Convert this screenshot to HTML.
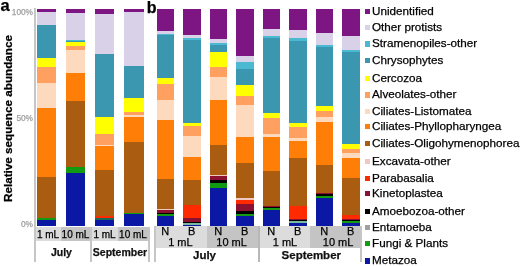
<!DOCTYPE html>
<html><head><meta charset="utf-8"><style>
*{margin:0;padding:0;box-sizing:border-box}
html,body{width:520px;height:266px;overflow:hidden;background:#fff}
body{position:relative;font-family:"Liberation Sans",sans-serif;color:#1a1a1a}
.s,.sq,.lt,.t,.bx,.ln{position:absolute}
.sq{left:365px;width:5.4px;height:5.4px}
.lt{left:372px;font-size:11.7px;line-height:14px;white-space:nowrap;color:#000}
.t{white-space:nowrap;line-height:1}
.tick{font-size:8.3px;color:#a0a0a0;text-align:right;width:30px}
.lab{font-size:10px;color:#000;text-align:center}
.mon{font-size:10.5px;font-weight:bold;text-align:center;color:#111}
.labb{font-size:11px;color:#000;text-align:center}
.monb{font-size:11.5px;font-weight:bold;text-align:center;color:#111}
.ln{background:#c6c6c6}
.gs{filter:grayscale(1)}
.gs .t,.gs .lt{-webkit-text-stroke:0.25px currentColor}
</style></head><body>
<div class="gs">
<div class="t" style="left:0.6px;top:-3.2px;font-size:16.5px;font-weight:bold;color:#000">a</div>
<div class="t" style="left:146.8px;top:-0.4px;font-size:16px;font-weight:bold;color:#000">b</div>
<div class="t" style="left:1.5px;top:201.5px;transform-origin:0 0;transform:rotate(-90deg);font-size:11.7px;font-weight:bold;color:#000">Relative sequence abundance</div>
<div class="t tick" style="left:3px;top:8px">100%</div>
<div class="t tick" style="left:3px;top:114px">50%</div>
<div class="t tick" style="left:3px;top:220px">0%</div>
</div>
<!-- panel a x boxes -->
<div class="bx" style="left:36px;top:227px;width:25px;height:14px;background:#dcdcdc"></div>
<div class="bx" style="left:61px;top:227px;width:29px;height:14px;background:#c4c4c4"></div>
<div class="bx" style="left:92px;top:227px;width:26px;height:14px;background:#dcdcdc"></div>
<div class="bx" style="left:118px;top:227px;width:30px;height:14px;background:#c4c4c4"></div>
<div class="ln" style="left:34px;top:8px;width:2px;height:254px"></div>
<div class="ln" style="left:90px;top:227px;width:2px;height:35px"></div>
<div class="ln" style="left:148px;top:227px;width:2px;height:35px"></div>
<div class="gs">
<div class="t lab" style="left:36px;top:230px;width:24px">1 mL</div>
<div class="t lab" style="left:61px;top:230px;width:29px">10 mL</div>
<div class="t lab" style="left:92px;top:230px;width:25px">1 mL</div>
<div class="t lab" style="left:118px;top:230px;width:30px">10 mL</div>
<div class="t mon" style="left:33.9px;top:247.4px;width:55px">July</div>
<div class="t mon" style="left:91.5px;top:247.4px;width:57px">September</div>
</div>
<!-- panel b x boxes -->
<div class="bx" style="left:156px;top:226px;width:51px;height:22px;background:#dcdcdc"></div>
<div class="bx" style="left:207px;top:226px;width:51px;height:22px;background:#c4c4c4"></div>
<div class="bx" style="left:260px;top:226px;width:50px;height:22px;background:#dcdcdc"></div>
<div class="bx" style="left:310px;top:226px;width:50px;height:22px;background:#c4c4c4"></div>
<div class="ln" style="left:154px;top:226px;width:2px;height:36px"></div>
<div class="ln" style="left:258px;top:226px;width:2px;height:36px;background:#b8b8b8"></div>
<div class="ln" style="left:360px;top:226px;width:2px;height:36px"></div>
<div class="gs">
<div class="t labb" style="left:155.2px;top:225.7px;width:20px">N</div>
<div class="t labb" style="left:181.7px;top:225.7px;width:20px">B</div>
<div class="t labb" style="left:208.2px;top:225.7px;width:20px">N</div>
<div class="t labb" style="left:234.7px;top:225.7px;width:20px">B</div>
<div class="t labb" style="left:261.2px;top:225.7px;width:20px">N</div>
<div class="t labb" style="left:287.7px;top:225.7px;width:20px">B</div>
<div class="t labb" style="left:314.2px;top:225.7px;width:20px">N</div>
<div class="t labb" style="left:340.7px;top:225.7px;width:20px">B</div>
<div class="t labb" style="left:160.4px;top:236.5px;width:40px">1 mL</div>
<div class="t labb" style="left:211.6px;top:236.5px;width:40px">10 mL</div>
<div class="t labb" style="left:265.0px;top:236.5px;width:40px">1 mL</div>
<div class="t labb" style="left:318.1px;top:236.5px;width:40px">10 mL</div>
<div class="t monb" style="left:153px;top:250.2px;width:103px">July</div>
<div class="t monb" style="left:260.8px;top:250.2px;width:101px">September</div>
</div>
<div class="s" style="left:37px;top:9px;width:19px;height:3px;background:#7D1583"></div>
<div class="s" style="left:37px;top:12px;width:19px;height:13px;background:#D9D1E8"></div>
<div class="s" style="left:37px;top:25px;width:19px;height:33px;background:#3B97AF"></div>
<div class="s" style="left:37px;top:58px;width:19px;height:9px;background:#FFFF00"></div>
<div class="s" style="left:37px;top:67px;width:19px;height:16px;background:#FFA060"></div>
<div class="s" style="left:37px;top:83px;width:19px;height:25px;background:#FDD9BE"></div>
<div class="s" style="left:37px;top:108px;width:19px;height:69px;background:#FF7E08"></div>
<div class="s" style="left:37px;top:177px;width:19px;height:41px;background:#AA5C10"></div>
<div class="s" style="left:37px;top:218px;width:19px;height:2px;background:#129A12"></div>
<div class="s" style="left:37px;top:220px;width:19px;height:6px;background:#0A18A4"></div>
<div class="s" style="left:66px;top:9px;width:19px;height:4px;background:#7D1583"></div>
<div class="s" style="left:66px;top:13px;width:19px;height:27px;background:#D9D1E8"></div>
<div class="s" style="left:66px;top:40px;width:19px;height:1px;background:#4BB9D2"></div>
<div class="s" style="left:66px;top:41px;width:19px;height:1px;background:#3B97AF"></div>
<div class="s" style="left:66px;top:42px;width:19px;height:4px;background:#FFFF00"></div>
<div class="s" style="left:66px;top:46px;width:19px;height:4px;background:#FFA060"></div>
<div class="s" style="left:66px;top:50px;width:19px;height:23px;background:#FDD9BE"></div>
<div class="s" style="left:66px;top:73px;width:19px;height:28px;background:#FF7E08"></div>
<div class="s" style="left:66px;top:101px;width:19px;height:66px;background:#AA5C10"></div>
<div class="s" style="left:66px;top:167px;width:19px;height:6px;background:#129A12"></div>
<div class="s" style="left:66px;top:173px;width:19px;height:53px;background:#0A18A4"></div>
<div class="s" style="left:95px;top:9px;width:19px;height:5px;background:#7D1583"></div>
<div class="s" style="left:95px;top:14px;width:19px;height:40px;background:#D9D1E8"></div>
<div class="s" style="left:95px;top:54px;width:19px;height:63px;background:#3B97AF"></div>
<div class="s" style="left:95px;top:117px;width:19px;height:17px;background:#FFFF00"></div>
<div class="s" style="left:95px;top:134px;width:19px;height:11px;background:#FFA060"></div>
<div class="s" style="left:95px;top:145px;width:19px;height:1px;background:#FDD9BE"></div>
<div class="s" style="left:95px;top:146px;width:19px;height:24px;background:#FF7E08"></div>
<div class="s" style="left:95px;top:170px;width:19px;height:46px;background:#AA5C10"></div>
<div class="s" style="left:95px;top:216px;width:19px;height:2px;background:#FF2A00"></div>
<div class="s" style="left:95px;top:218px;width:19px;height:2px;background:#1A6A55"></div>
<div class="s" style="left:95px;top:220px;width:19px;height:6px;background:#0A18A4"></div>
<div class="s" style="left:124px;top:9px;width:20px;height:3px;background:#7D1583"></div>
<div class="s" style="left:124px;top:12px;width:20px;height:54px;background:#D9D1E8"></div>
<div class="s" style="left:124px;top:66px;width:20px;height:32px;background:#3B97AF"></div>
<div class="s" style="left:124px;top:98px;width:20px;height:14px;background:#FFFF00"></div>
<div class="s" style="left:124px;top:112px;width:20px;height:3px;background:#FFA060"></div>
<div class="s" style="left:124px;top:115px;width:20px;height:2px;background:#FDD9BE"></div>
<div class="s" style="left:124px;top:117px;width:20px;height:25px;background:#FF7E08"></div>
<div class="s" style="left:124px;top:142px;width:20px;height:71px;background:#AA5C10"></div>
<div class="s" style="left:124px;top:213px;width:20px;height:1px;background:#129A12"></div>
<div class="s" style="left:124px;top:214px;width:20px;height:12px;background:#0A18A4"></div>
<div class="s" style="left:157px;top:9px;width:17px;height:22px;background:#7D1583"></div>
<div class="s" style="left:157px;top:31px;width:17px;height:3px;background:#D9D1E8"></div>
<div class="s" style="left:157px;top:34px;width:17px;height:1px;background:#4BB9D2"></div>
<div class="s" style="left:157px;top:35px;width:17px;height:43px;background:#3B97AF"></div>
<div class="s" style="left:157px;top:78px;width:17px;height:6px;background:#FFFF00"></div>
<div class="s" style="left:157px;top:84px;width:17px;height:16px;background:#FFA060"></div>
<div class="s" style="left:157px;top:100px;width:17px;height:20px;background:#FDD9BE"></div>
<div class="s" style="left:157px;top:120px;width:17px;height:59px;background:#FF7E08"></div>
<div class="s" style="left:157px;top:179px;width:17px;height:30px;background:#AA5C10"></div>
<div class="s" style="left:157px;top:209px;width:17px;height:1px;background:#F0C8C2"></div>
<div class="s" style="left:157px;top:210px;width:17px;height:3px;background:#8A1230"></div>
<div class="s" style="left:157px;top:213px;width:17px;height:1px;background:#000000"></div>
<div class="s" style="left:157px;top:214px;width:17px;height:2px;background:#129A12"></div>
<div class="s" style="left:157px;top:216px;width:17px;height:10px;background:#0A18A4"></div>
<div class="s" style="left:183px;top:9px;width:18px;height:26px;background:#7D1583"></div>
<div class="s" style="left:183px;top:35px;width:18px;height:3px;background:#D9D1E8"></div>
<div class="s" style="left:183px;top:38px;width:18px;height:2px;background:#4BB9D2"></div>
<div class="s" style="left:183px;top:40px;width:18px;height:83px;background:#3B97AF"></div>
<div class="s" style="left:183px;top:123px;width:18px;height:3px;background:#FFFF00"></div>
<div class="s" style="left:183px;top:126px;width:18px;height:10px;background:#FFA060"></div>
<div class="s" style="left:183px;top:136px;width:18px;height:21px;background:#FDD9BE"></div>
<div class="s" style="left:183px;top:157px;width:18px;height:23px;background:#FF7E08"></div>
<div class="s" style="left:183px;top:180px;width:18px;height:25px;background:#AA5C10"></div>
<div class="s" style="left:183px;top:205px;width:18px;height:13px;background:#FF2A00"></div>
<div class="s" style="left:183px;top:218px;width:18px;height:4px;background:#8A1230"></div>
<div class="s" style="left:183px;top:222px;width:18px;height:1px;background:#000000"></div>
<div class="s" style="left:183px;top:223px;width:18px;height:2px;background:#7AB8A0"></div>
<div class="s" style="left:183px;top:225px;width:18px;height:1px;background:#0A18A4"></div>
<div class="s" style="left:210px;top:9px;width:17px;height:30px;background:#7D1583"></div>
<div class="s" style="left:210px;top:39px;width:17px;height:4px;background:#D9D1E8"></div>
<div class="s" style="left:210px;top:43px;width:17px;height:2px;background:#4BB9D2"></div>
<div class="s" style="left:210px;top:45px;width:17px;height:7px;background:#3B97AF"></div>
<div class="s" style="left:210px;top:52px;width:17px;height:15px;background:#FFFF00"></div>
<div class="s" style="left:210px;top:67px;width:17px;height:10px;background:#FFA060"></div>
<div class="s" style="left:210px;top:77px;width:17px;height:23px;background:#FDD9BE"></div>
<div class="s" style="left:210px;top:100px;width:17px;height:45px;background:#FF7E08"></div>
<div class="s" style="left:210px;top:145px;width:17px;height:30px;background:#AA5C10"></div>
<div class="s" style="left:210px;top:175px;width:17px;height:1px;background:#F0C8C2"></div>
<div class="s" style="left:210px;top:176px;width:17px;height:4px;background:#8A1230"></div>
<div class="s" style="left:210px;top:180px;width:17px;height:3px;background:#000000"></div>
<div class="s" style="left:210px;top:183px;width:17px;height:5px;background:#129A12"></div>
<div class="s" style="left:210px;top:188px;width:17px;height:38px;background:#0A18A4"></div>
<div class="s" style="left:236px;top:9px;width:18px;height:47px;background:#7D1583"></div>
<div class="s" style="left:236px;top:56px;width:18px;height:6px;background:#D9D1E8"></div>
<div class="s" style="left:236px;top:62px;width:18px;height:7px;background:#4BB9D2"></div>
<div class="s" style="left:236px;top:69px;width:18px;height:16px;background:#3B97AF"></div>
<div class="s" style="left:236px;top:85px;width:18px;height:11px;background:#FFFF00"></div>
<div class="s" style="left:236px;top:96px;width:18px;height:9px;background:#FFA060"></div>
<div class="s" style="left:236px;top:105px;width:18px;height:32px;background:#FDD9BE"></div>
<div class="s" style="left:236px;top:137px;width:18px;height:26px;background:#FF7E08"></div>
<div class="s" style="left:236px;top:163px;width:18px;height:35px;background:#AA5C10"></div>
<div class="s" style="left:236px;top:198px;width:18px;height:2px;background:#F0C8C2"></div>
<div class="s" style="left:236px;top:200px;width:18px;height:4px;background:#FF2A00"></div>
<div class="s" style="left:236px;top:204px;width:18px;height:7px;background:#8A1230"></div>
<div class="s" style="left:236px;top:211px;width:18px;height:3px;background:#000000"></div>
<div class="s" style="left:236px;top:214px;width:18px;height:2px;background:#129A12"></div>
<div class="s" style="left:236px;top:216px;width:18px;height:10px;background:#0A18A4"></div>
<div class="s" style="left:263px;top:9px;width:17px;height:20px;background:#7D1583"></div>
<div class="s" style="left:263px;top:29px;width:17px;height:7px;background:#D9D1E8"></div>
<div class="s" style="left:263px;top:36px;width:17px;height:2px;background:#4BB9D2"></div>
<div class="s" style="left:263px;top:38px;width:17px;height:75px;background:#3B97AF"></div>
<div class="s" style="left:263px;top:113px;width:17px;height:5px;background:#FFFF00"></div>
<div class="s" style="left:263px;top:118px;width:17px;height:16px;background:#FFA060"></div>
<div class="s" style="left:263px;top:134px;width:17px;height:3px;background:#FDD9BE"></div>
<div class="s" style="left:263px;top:137px;width:17px;height:34px;background:#FF7E08"></div>
<div class="s" style="left:263px;top:171px;width:17px;height:35px;background:#AA5C10"></div>
<div class="s" style="left:263px;top:206px;width:17px;height:1px;background:#8A1230"></div>
<div class="s" style="left:263px;top:207px;width:17px;height:1px;background:#000000"></div>
<div class="s" style="left:263px;top:208px;width:17px;height:2px;background:#129A12"></div>
<div class="s" style="left:263px;top:210px;width:17px;height:16px;background:#0A18A4"></div>
<div class="s" style="left:289px;top:9px;width:18px;height:21px;background:#7D1583"></div>
<div class="s" style="left:289px;top:30px;width:18px;height:8px;background:#D9D1E8"></div>
<div class="s" style="left:289px;top:38px;width:18px;height:3px;background:#4BB9D2"></div>
<div class="s" style="left:289px;top:41px;width:18px;height:82px;background:#3B97AF"></div>
<div class="s" style="left:289px;top:123px;width:18px;height:4px;background:#FFFF00"></div>
<div class="s" style="left:289px;top:127px;width:18px;height:11px;background:#FFA060"></div>
<div class="s" style="left:289px;top:138px;width:18px;height:3px;background:#FDD9BE"></div>
<div class="s" style="left:289px;top:141px;width:18px;height:17px;background:#FF7E08"></div>
<div class="s" style="left:289px;top:158px;width:18px;height:48px;background:#AA5C10"></div>
<div class="s" style="left:289px;top:206px;width:18px;height:13px;background:#FF2A00"></div>
<div class="s" style="left:289px;top:219px;width:18px;height:1px;background:#8A1230"></div>
<div class="s" style="left:289px;top:220px;width:18px;height:1px;background:#000000"></div>
<div class="s" style="left:289px;top:221px;width:18px;height:2px;background:#7AB8A0"></div>
<div class="s" style="left:289px;top:223px;width:18px;height:3px;background:#0A18A4"></div>
<div class="s" style="left:316px;top:9px;width:17px;height:24px;background:#7D1583"></div>
<div class="s" style="left:316px;top:33px;width:17px;height:12px;background:#D9D1E8"></div>
<div class="s" style="left:316px;top:45px;width:17px;height:2px;background:#4BB9D2"></div>
<div class="s" style="left:316px;top:47px;width:17px;height:59px;background:#3B97AF"></div>
<div class="s" style="left:316px;top:106px;width:17px;height:5px;background:#FFFF00"></div>
<div class="s" style="left:316px;top:111px;width:17px;height:6px;background:#FFA060"></div>
<div class="s" style="left:316px;top:117px;width:17px;height:5px;background:#FDD9BE"></div>
<div class="s" style="left:316px;top:122px;width:17px;height:43px;background:#FF7E08"></div>
<div class="s" style="left:316px;top:165px;width:17px;height:28px;background:#AA5C10"></div>
<div class="s" style="left:316px;top:193px;width:17px;height:1px;background:#8A1230"></div>
<div class="s" style="left:316px;top:194px;width:17px;height:2px;background:#000000"></div>
<div class="s" style="left:316px;top:196px;width:17px;height:2px;background:#129A12"></div>
<div class="s" style="left:316px;top:198px;width:17px;height:28px;background:#0A18A4"></div>
<div class="s" style="left:342px;top:9px;width:18px;height:27px;background:#7D1583"></div>
<div class="s" style="left:342px;top:36px;width:18px;height:14px;background:#D9D1E8"></div>
<div class="s" style="left:342px;top:50px;width:18px;height:2px;background:#4BB9D2"></div>
<div class="s" style="left:342px;top:52px;width:18px;height:92px;background:#3B97AF"></div>
<div class="s" style="left:342px;top:144px;width:18px;height:5px;background:#FFFF00"></div>
<div class="s" style="left:342px;top:149px;width:18px;height:4px;background:#FFA060"></div>
<div class="s" style="left:342px;top:153px;width:18px;height:5px;background:#FDD9BE"></div>
<div class="s" style="left:342px;top:158px;width:18px;height:20px;background:#FF7E08"></div>
<div class="s" style="left:342px;top:178px;width:18px;height:37px;background:#AA5C10"></div>
<div class="s" style="left:342px;top:215px;width:18px;height:4px;background:#FF2A00"></div>
<div class="s" style="left:342px;top:219px;width:18px;height:1px;background:#8A1230"></div>
<div class="s" style="left:342px;top:220px;width:18px;height:1px;background:#000000"></div>
<div class="s" style="left:342px;top:221px;width:18px;height:2px;background:#129A12"></div>
<div class="s" style="left:342px;top:223px;width:18px;height:3px;background:#0A18A4"></div>
<div class="sq" style="top:8.9px;background:#7D1583"></div>
<div class="sq" style="top:24.7px;background:#D9D1E8"></div>
<div class="sq" style="top:41.2px;background:#4BB9D2"></div>
<div class="sq" style="top:57.7px;background:#3B97AF"></div>
<div class="sq" style="top:75.5px;background:#FFFF00"></div>
<div class="sq" style="top:92.2px;background:#FFA060"></div>
<div class="sq" style="top:108.9px;background:#FDD9BE"></div>
<div class="sq" style="top:123.9px;background:#FF7E08"></div>
<div class="sq" style="top:140.6px;background:#AA5C10"></div>
<div class="sq" style="top:158.6px;background:#F0C8C2"></div>
<div class="sq" style="top:175.5px;background:#FF2A00"></div>
<div class="sq" style="top:191.0px;background:#8A1230"></div>
<div class="sq" style="top:208.5px;background:#000000"></div>
<div class="sq" style="top:224.6px;background:#A0A0A0"></div>
<div class="sq" style="top:240.9px;background:#129A12"></div>
<div class="sq" style="top:258.3px;background:#0A18A4"></div>
<div class="gs">
<div class="lt" style="top:3.9px">Unidentified</div>
<div class="lt" style="top:19.7px">Other protists</div>
<div class="lt" style="top:36.2px">Stramenopiles-other</div>
<div class="lt" style="top:52.7px">Chrysophytes</div>
<div class="lt" style="top:70.5px">Cercozoa</div>
<div class="lt" style="top:87.2px">Alveolates-other</div>
<div class="lt" style="top:103.9px">Ciliates-Listomatea</div>
<div class="lt" style="top:118.9px">Ciliates-Phyllopharyngea</div>
<div class="lt" style="top:135.6px">Ciliates-Oligohymenophorea</div>
<div class="lt" style="top:153.6px">Excavata-other</div>
<div class="lt" style="top:170.5px">Parabasalia</div>
<div class="lt" style="top:186.0px">Kinetoplastea</div>
<div class="lt" style="top:203.5px">Amoebozoa-other</div>
<div class="lt" style="top:219.6px">Entamoeba</div>
<div class="lt" style="top:235.9px">Fungi &amp; Plants</div>
<div class="lt" style="top:253.3px">Metazoa</div>
</div>
</body></html>
